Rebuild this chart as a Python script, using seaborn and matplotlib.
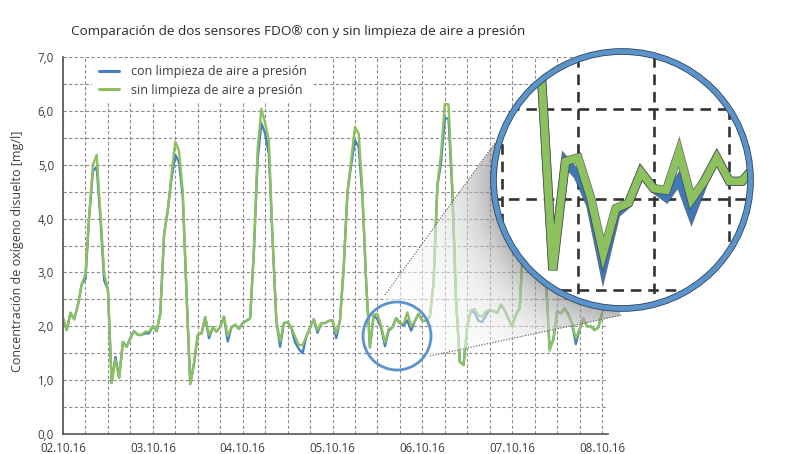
import matplotlib
matplotlib.use('Agg')
import matplotlib.pyplot as plt
import matplotlib.patheffects as pe
from matplotlib.patches import Circle, Polygon
from matplotlib.ticker import MultipleLocator, FuncFormatter
import numpy as np
import seaborn as sns

sns.set_style('white')
plt.rcParams['font.family'] = ['Open Sans', 'DejaVu Sans']

# data: one reading per hour, starting 02.10.16 00:00
day_labels = ['02.10.16', '03.10.16', '04.10.16', '05.10.16', '06.10.16', '07.10.16', '08.10.16']
sin_limpieza = [
    2.15, 1.93, 2.25, 2.13, 2.40, 2.78, 2.97, 4.05, 5.00, 5.18, 4.10, 2.98, 2.68, 0.95, 1.38, 1.04,
    1.71, 1.62, 1.78, 1.91, 1.84, 1.84, 1.90, 1.90, 2.00, 1.91, 2.24, 3.70, 4.16, 4.84, 5.43, 5.25,
    4.50, 2.60, 0.93, 1.31, 1.84, 1.87, 2.17, 1.84, 1.98, 1.90, 1.99, 2.17, 1.82, 1.98, 2.03, 1.95,
    2.06, 2.10, 2.15, 3.40, 5.30, 6.04, 5.77, 5.45, 3.60, 2.10, 1.72, 2.06, 2.08, 1.97, 1.81, 1.65,
    1.65, 1.81, 1.97, 2.13, 1.93, 2.06, 2.06, 2.10, 2.11, 1.87, 2.11, 3.10, 4.50, 5.10, 5.70, 5.58,
    4.50, 2.80, 1.61, 2.21, 2.23, 2.01, 1.70, 1.95, 1.98, 2.15, 2.06, 2.05, 2.26, 2.00, 2.10, 2.23,
    2.10, 2.10, 2.18, 2.80, 4.60, 5.21, 6.13, 6.12, 4.60, 2.50, 1.34, 1.28, 2.00, 2.30, 2.32, 2.20,
    2.18, 2.28, 2.31, 2.28, 2.25, 2.40, 2.30, 2.14, 2.00, 2.22, 2.33, 3.60, 5.00, 5.90, 6.20, 5.60,
    4.00, 2.90, 1.55, 1.75, 2.28, 2.24, 2.33, 2.22, 2.05, 1.78, 1.94, 2.15, 2.00, 2.00, 1.93, 1.98,
    2.24]
con_limpieza = [
    2.15, 1.93, 2.25, 2.13, 2.40, 2.78, 2.88, 4.05, 4.88, 4.96, 4.00, 2.85, 2.68, 0.95, 1.43, 1.04,
    1.71, 1.62, 1.78, 1.91, 1.84, 1.84, 1.87, 1.87, 2.00, 1.91, 2.24, 3.70, 4.16, 4.75, 5.18, 5.05,
    4.40, 2.60, 0.93, 1.31, 1.84, 1.87, 2.17, 1.78, 1.98, 1.90, 1.99, 2.18, 1.72, 1.98, 2.03, 1.95,
    2.06, 2.10, 2.15, 3.40, 5.10, 5.77, 5.58, 5.20, 3.60, 2.10, 1.62, 2.06, 2.08, 1.97, 1.70, 1.58,
    1.50, 1.81, 1.97, 2.13, 1.88, 2.06, 2.06, 2.10, 2.11, 1.78, 2.11, 3.10, 4.50, 5.00, 5.45, 5.33,
    4.40, 2.80, 1.61, 2.21, 2.13, 1.97, 1.63, 1.92, 1.98, 2.15, 2.06, 2.01, 2.11, 1.92, 2.10, 2.23,
    2.10, 2.10, 2.18, 2.80, 4.60, 5.05, 5.86, 5.86, 4.50, 2.50, 1.34, 1.28, 2.00, 2.30, 2.25, 2.10,
    2.08, 2.20, 2.31, 2.28, 2.25, 2.40, 2.30, 2.14, 2.00, 2.22, 2.33, 3.60, 5.00, 5.70, 5.85, 5.35,
    4.00, 2.90, 1.60, 1.75, 2.28, 2.24, 2.33, 2.22, 2.05, 1.67, 1.94, 2.15, 2.00, 2.00, 1.93, 1.98,
    2.24]
hours = np.arange(len(sin_limpieza))

BLUE = '#4680c2'
GREEN = '#8cc15e'
RING = '#5b93cc'
TXT = '#3c3c3c'
W, H = 790, 454

fig = plt.figure(figsize=(W / 100, H / 100), dpi=100)
ax = fig.add_axes([63 / W, 1 - 434 / H, 545 / W, 377 / H])

sns.lineplot(x=hours, y=con_limpieza, ax=ax, color=BLUE, lw=1.7, label='con limpieza de aire a presión')
sns.lineplot(x=hours, y=sin_limpieza, ax=ax, color=GREEN, lw=1.7, label='sin limpieza de aire a presión')

ax.set_xlim(0, 145.6)
ax.set_ylim(0, 7)
ax.xaxis.set_major_locator(MultipleLocator(6))
ax.xaxis.set_minor_locator(MultipleLocator(2))
ax.xaxis.set_major_formatter(FuncFormatter(
    lambda v, p: day_labels[int(round(v)) // 24] if int(round(v)) % 24 == 0 and 0 <= int(round(v)) // 24 < len(day_labels) else ''))
ax.yaxis.set_major_locator(MultipleLocator(1))
ax.yaxis.set_minor_locator(MultipleLocator(0.5))
ax.yaxis.set_major_formatter(FuncFormatter(lambda v, p: f'{v:.1f}'.replace('.', ',')))
ax.grid(axis='x', which='major', color='#8c8c8c', lw=0.8, ls=(0, (3, 2)))
ax.grid(axis='y', which='both', color='#8c8c8c', lw=0.8, ls=(0, (3, 2)))
ax.tick_params(axis='both', which='major', length=4, width=1, color='#555555', labelsize=8.3, labelcolor=TXT, pad=2.5)
ax.tick_params(axis='x', which='major', pad=1.5)
ax.tick_params(axis='x', which='minor', length=2.5, width=0.8, color='#555555')
ax.tick_params(axis='y', which='minor', length=0)
for s in ['top', 'right']:
    ax.spines[s].set_visible(False)
for s in ['left', 'bottom']:
    ax.spines[s].set_color('#555555')
    ax.spines[s].set_linewidth(1.2)
ax.set_xlabel('')
ax.set_ylabel('')

leg = ax.legend(loc='upper left', bbox_to_anchor=(0.054, 0.995), fontsize=9, frameon=True, facecolor='white',
                edgecolor='none', framealpha=1, handlelength=1.6, handletextpad=1.0, borderpad=0.5,
                labelspacing=0.45, borderaxespad=0.0, fancybox=False)
for t in leg.get_texts():
    t.set_color(TXT)
for l in leg.get_lines():
    l.set_linewidth(2.2)

fig.text(298 / W, 1 - 31 / H, 'Comparación de dos sensores FDO® con y sin limpieza de aire a presión',
         ha='center', va='center', fontsize=9.7, color='#2a2a2a')
fig.text(18 / W, 1 - 251 / H, 'Concentración de oxígeno disuelto [mg/l]', rotation=90,
         ha='center', va='center', fontsize=9, color=TXT)

# overlay in pixel coordinates (y downwards)
ov = fig.add_axes([0, 0, 1, 1])
ov.set_axis_off()
ov.patch.set_alpha(0)

big_c, big_r = (622, 180), 129
small_c, small_r = (397, 336), 34

yy, xx = np.mgrid[0:H, 0:W] + 0.5
d = np.hypot(xx - big_c[0], yy - big_c[1]) - big_r
shade = np.exp(-np.clip(d, 0, None) / 32)
rgba = np.zeros((H, W, 4))
rgba[..., :3] = (1 - 0.55 * shade)[..., None]
rgba[..., 3] = 0.55
rgba[np.hypot(xx - small_c[0], yy - small_c[1]) < small_r + 1, 3] = 0
cone = Polygon([(385, 295), (495, 143), big_c, (620, 316), (430, 356), small_c],
               closed=True, transform=ov.transData)
im = ov.imshow(rgba, extent=(0, W, H, 0), origin='upper', zorder=1, interpolation='bilinear')
im.set_clip_path(cone)
ov.plot([385, 495], [295, 143], ls=(0, (1, 1.5)), color='#555555', lw=0.8, zorder=2)
ov.plot([430, 622], [356, 315], ls=(0, (1, 1.5)), color='#555555', lw=0.8, zorder=2)
ov.add_patch(Circle(small_c, small_r, fill=False, ec=RING, lw=2.0, zorder=3))
ov.add_patch(Circle(big_c, big_r + 1, fc='white', ec='none', zorder=4))
ov.set_xlim(0, W)
ov.set_ylim(H, 0)
ov.set_aspect('auto')

# lens: magnified view of the circled region
r = 131
lens = fig.add_axes([(big_c[0] - r) / W, 1 - (big_c[1] + r) / H, 2 * r / W, 2 * r / H])
lens.set_axis_off()
lens.patch.set_alpha(0)
lens.set_xlim(77.10, 97.87)
lens.set_ylim(1.384, 2.830)
clip = Circle(big_c, 126, transform=ov.transData)
for xv in [78, 84, 90, 96]:
    ln = lens.axvline(xv, color='#333333', lw=1.9, ls=(0, (4, 2.6)))
    ln.set_clip_path(clip)
for yv in [1.5, 2.0, 2.5]:
    ln = lens.axhline(yv, color='#333333', lw=1.9, ls=(0, (4, 2.6)))
    ln.set_clip_path(clip)
for vals, col in [(con_limpieza, '#3f77b8'), (sin_limpieza, GREEN)]:
    ln, = lens.plot(hours, vals, color=col, lw=5.5, solid_joinstyle='miter',
                    path_effects=[pe.Stroke(linewidth=6.6, foreground='#3a3f44', alpha=0.75), pe.Normal()])
    ln.set_clip_path(clip)
lens.add_patch(Circle(big_c, 128.5, fill=False, ec=RING, lw=3.6, transform=ov.transData, clip_on=False,
                      path_effects=[pe.Stroke(linewidth=4.8, foreground='#2f4458'), pe.Normal()], zorder=10))

fig.savefig('out.png', dpi=100)
